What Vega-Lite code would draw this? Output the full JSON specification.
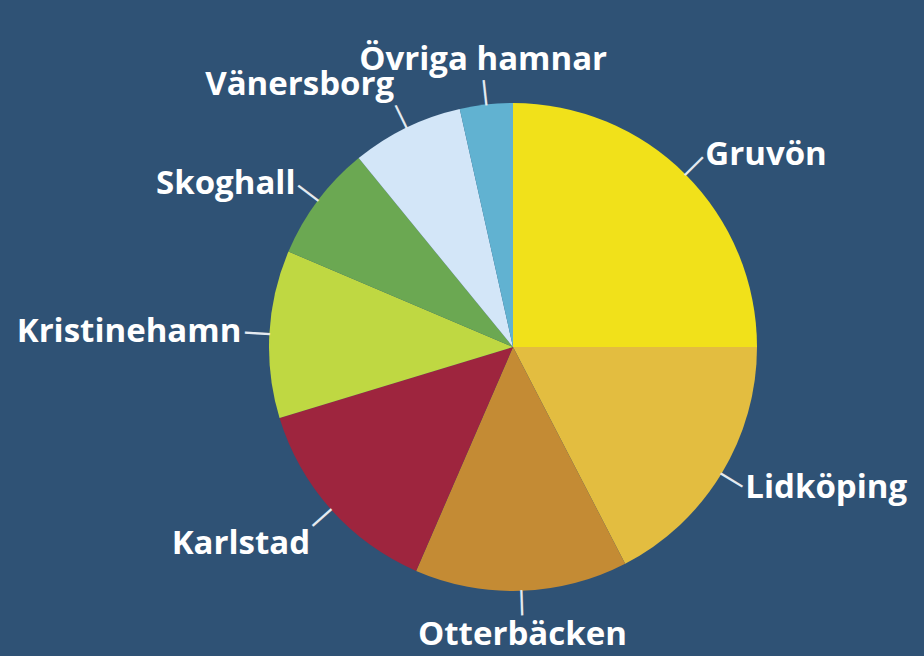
{
  "$schema": "https://vega.github.io/schema/vega-lite/v6.json",
  "width": 822,
  "height": 618,
  "autosize": {"type": "none"},
  "padding": {"left": 102, "top": 38, "right": 0, "bottom": 0},
  "background": "#2f5275",
  "config": {"view": {"stroke": null}},
  "data": {
    "values": [
      {"hamn": "Gruvön", "share": 25.0, "rank": 1},
      {"hamn": "Lidköping", "share": 17.4, "rank": 2},
      {"hamn": "Otterbäcken", "share": 14.1, "rank": 3},
      {"hamn": "Karlstad", "share": 13.8, "rank": 4},
      {"hamn": "Kristinehamn", "share": 11.1, "rank": 5},
      {"hamn": "Skoghall", "share": 7.7, "rank": 6},
      {"hamn": "Vänersborg", "share": 7.4, "rank": 7},
      {"hamn": "Övriga hamnar", "share": 3.5, "rank": 8}
    ]
  },
  "encoding": {
    "theta": {"field": "share", "type": "quantitative", "stack": true},
    "order": {"field": "rank", "type": "quantitative"},
    "detail": {"field": "hamn", "type": "nominal"}
  },
  "layer": [
    {
      "mark": {"type": "arc", "outerRadius": 244, "strokeWidth": 0},
      "encoding": {
        "color": {
          "field": "hamn",
          "type": "nominal",
          "legend": null,
          "scale": {
            "domain": ["Gruvön", "Lidköping", "Otterbäcken", "Karlstad", "Kristinehamn", "Skoghall", "Vänersborg", "Övriga hamnar"],
            "range": ["#f1e11a", "#e3bd40", "#c48b34", "#9e253e", "#bfd842", "#6ba852", "#d3e6f8", "#61b2d1"]
          }
        }
      }
    },
    {
      "mark": {
        "type": "text",
        "radius": 257,
        "text": "|",
        "font": "Liberation Sans",
        "fontSize": 27,
        "color": "#e4eaf0",
        "align": "center",
        "baseline": "middle",
        "angle": {"expr": "(datum.share_start + datum.share_end) * 1.8"}
      }
    },
    {
      "mark": {
        "type": "text",
        "radius": 272,
        "font": "Open Sans",
        "fontWeight": "bold",
        "fontSize": 33,
        "color": "#ffffff",
        "align": {"expr": "sin((datum.share_start + datum.share_end) * PI / 100) > 0.3 ? 'left' : (sin((datum.share_start + datum.share_end) * PI / 100) < -0.3 ? 'right' : 'center')"},
        "baseline": {"expr": "cos((datum.share_start + datum.share_end) * PI / 100) > 0.8 ? 'bottom' : (cos((datum.share_start + datum.share_end) * PI / 100) < -0.6 ? 'top' : 'middle')"}
      },
      "encoding": {"text": {"field": "hamn", "type": "nominal"}}
    }
  ]
}
